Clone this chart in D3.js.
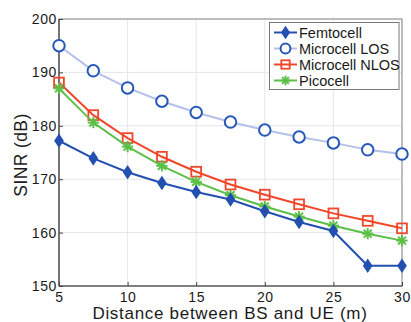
<!DOCTYPE html>
<html>
<head>
<meta charset="utf-8">
<script src="https://cdn.jsdelivr.net/npm/d3@7"></script>
<style>
  html, body { margin: 0; padding: 0; background: #fff; }
  svg { display: block; font-family: "Liberation Sans", Arial, sans-serif; }
</style>
</head>
<body>
<svg id="chart" width="411" height="322"></svg>
<script>
// Distance between BS and UE (m)
const distances = [5, 7.5, 10, 12.5, 15, 17.5, 20, 22.5, 25, 27.5, 30];

// SINR (dB) per deployment type
const femtocell     = [177.2, 173.9, 171.3, 169.3, 167.6, 166.2, 164.0, 162.0, 160.3, 153.8, 153.8];
const microcellLOS  = [195.0, 190.3, 187.1, 184.6, 182.5, 180.7, 179.2, 177.9, 176.8, 175.5, 174.7];
const microcellNLOS = [188.1, 182.0, 177.7, 174.2, 171.4, 169.0, 167.1, 165.3, 163.6, 162.2, 160.8];
const picocell      = [187.0, 180.6, 176.1, 172.5, 169.5, 167.0, 164.9, 163.0, 161.3, 159.8, 158.5];

const xTicks = [5, 10, 15, 20, 25, 30];
const yTicks = [150, 160, 170, 180, 190, 200];

const seriesNames = ["Femtocell", "Microcell LOS", "Microcell NLOS", "Picocell"];
const seriesValues = [femtocell, microcellLOS, microcellNLOS, picocell];
const lineColors   = ["#2350b0", "#b4c0ea", "#f0472a", "#5cbf48"];
const markerColors = ["#2350b0", "#2558b8", "#f0472a", "#5cbf48"];
const markerKinds  = ["diamond", "circle", "square", "star"];

const svg = d3.select("#chart");
const m = { left: 59, right: 402, top: 19, bottom: 286 };

const x = d3.scaleLinear().domain([5, 30]).range([m.left, m.right]);
const y = d3.scaleLinear().domain([150, 200]).range([m.bottom, m.top]);

// grid
const grid = svg.append("g");
grid.selectAll("line.gx").data(xTicks).join("line")
  .attr("x1", d => x(d)).attr("x2", d => x(d))
  .attr("y1", m.top).attr("y2", m.bottom)
  .attr("stroke", "#e4e6ea").attr("stroke-width", 1);
grid.selectAll("line.gy").data(yTicks).join("line")
  .attr("y1", d => y(d)).attr("y2", d => y(d))
  .attr("x1", m.left).attr("x2", m.right)
  .attr("stroke", "#e4e6ea").attr("stroke-width", 1);

// frame
svg.append("rect")
  .attr("x", m.left).attr("y", m.top)
  .attr("width", m.right - m.left).attr("height", m.bottom - m.top)
  .attr("fill", "none").attr("stroke", "#999").attr("stroke-width", 1.2);

// axes with inward ticks
const xAxis = svg.append("g").attr("transform", `translate(0,${m.bottom})`)
  .call(d3.axisBottom(x).tickValues(xTicks).tickSizeInner(-4).tickSizeOuter(0).tickPadding(6));
const yAxis = svg.append("g").attr("transform", `translate(${m.left},0)`)
  .call(d3.axisLeft(y).tickValues(yTicks).tickSizeInner(-4).tickSizeOuter(0).tickPadding(2));
[xAxis, yAxis].forEach(a => {
  a.select(".domain").attr("stroke", "#444").attr("stroke-width", 1.2);
  a.selectAll(".tick line").attr("stroke", "#444");
  a.selectAll(".tick text").attr("fill", "#1a1a1a").attr("font-size", 14)
    .attr("letter-spacing", 0.6)
    .attr("font-family", "Liberation Sans, Arial, sans-serif");
});
xAxis.select(".domain").attr("d", `M${m.left},0H${m.right}`);
yAxis.select(".domain").attr("d", `M0,${m.top}V${m.bottom}`);

// axis titles
svg.append("text")
  .attr("x", 230).attr("y", 319)
  .attr("text-anchor", "middle").attr("font-size", 17).attr("letter-spacing", 0.7)
  .attr("fill", "#1a1a1a")
  .text("Distance between BS and UE (m)");
svg.append("text")
  .attr("transform", "translate(27,155) rotate(-90)")
  .attr("text-anchor", "middle").attr("font-size", 17.5).attr("letter-spacing", 0.4)
  .attr("fill", "#1a1a1a")
  .text("SINR (dB)");

// marker drawing
function drawMarker(g, kind, color, size) {
  if (kind === "diamond") {
    g.append("path").attr("d", d3.symbol(d3.symbolDiamond, size * 6.5)())
      .attr("transform", "scale(1.15,1)")
      .attr("fill", color).attr("stroke", color);
  } else if (kind === "circle") {
    g.append("circle").attr("r", size * 0.82).attr("fill", "#fff")
      .attr("stroke", color).attr("stroke-width", 2);
  } else if (kind === "square") {
    g.append("rect").attr("x", -size * 0.7).attr("y", -size * 0.7)
      .attr("width", size * 1.4).attr("height", size * 1.4)
      .attr("fill", "none").attr("stroke", color).attr("stroke-width", 1.8);
  } else if (kind === "star") {
    const r = size * 0.8;
    [0, 45, 90, 135].forEach(a => {
      g.append("line").attr("x1", -r).attr("x2", r).attr("y1", 0).attr("y2", 0)
        .attr("transform", `rotate(${a})`)
        .attr("stroke", color).attr("stroke-width", 2);
    });
  }
}

const line = d3.line().x((d, i) => x(distances[i])).y(d => y(d));

// draw series (LOS first so others sit on top)
const order = [1, 2, 3, 0];
order.forEach(k => {
  const vals = seriesValues[k];
  svg.append("path").datum(vals).attr("d", line)
    .attr("fill", "none").attr("stroke", lineColors[k]).attr("stroke-width", 2);
  vals.forEach((v, i) => {
    const g = svg.append("g").attr("transform", `translate(${x(distances[i])},${y(v)})`);
    drawMarker(g, markerKinds[k], markerColors[k], 7);
  });
});

// legend
const lg = svg.append("g");
lg.append("rect").attr("x", 269.5).attr("y", 22.5).attr("width", 129.5).attr("height", 67)
  .attr("fill", "#fff").attr("stroke", "#777").attr("stroke-width", 1);
seriesNames.forEach((name, k) => {
  const yy = 32.5 + k * 16;
  lg.append("line").attr("x1", 274).attr("x2", 297).attr("y1", yy).attr("y2", yy)
    .attr("stroke", lineColors[k]).attr("stroke-width", 2);
  const g = lg.append("g").attr("transform", `translate(285.5,${yy})`);
  drawMarker(g, markerKinds[k], markerColors[k], 6);
  lg.append("text").attr("x", 299).attr("y", yy + 5).attr("font-size", 14.5)
    .attr("fill", "#1a1a1a").text(name);
});
</script>
</body>
</html>
